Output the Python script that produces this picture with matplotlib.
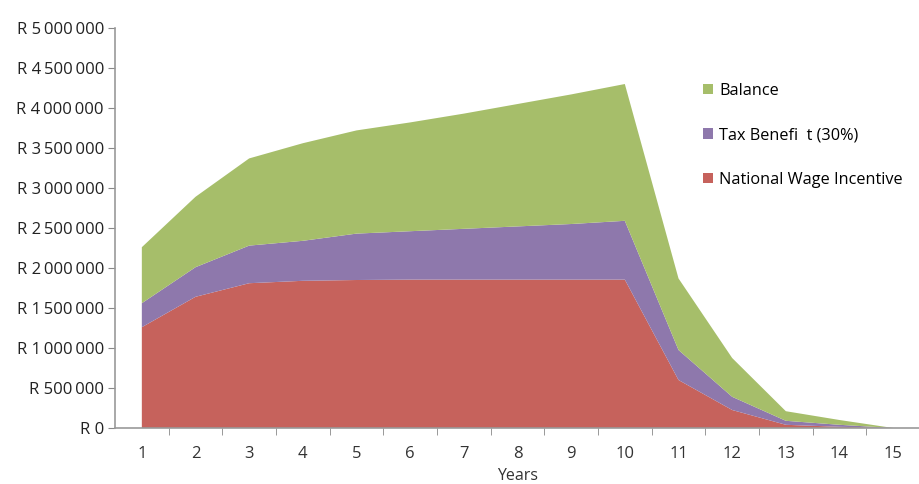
import matplotlib
matplotlib.use("Agg")
import matplotlib.pyplot as plt
import numpy as np

years = list(range(1, 16))
total = [2.26, 2.89, 3.37, 3.56, 3.72, 3.82, 3.93, 4.05, 4.17, 4.30, 1.87, 0.875, 0.21, 0.10, 0.0]
nwi_plus_tax = [1.56, 2.01, 2.28, 2.34, 2.43, 2.46, 2.49, 2.52, 2.55, 2.59, 0.975, 0.39, 0.09, 0.04, 0.0]
nwi = [1.26, 1.64, 1.81, 1.84, 1.85, 1.855, 1.855, 1.855, 1.855, 1.855, 0.60, 0.225, 0.04, 0.015, 0.0]

national_wage_incentive = np.array(nwi) * 1e6
tax_benefit = (np.array(nwi_plus_tax) - np.array(nwi)) * 1e6
balance = (np.array(total) - np.array(nwi_plus_tax)) * 1e6

series_names = ["National Wage Incentive", "Tax Benefi  t (30%)", "Balance"]
colors = ["#C6625C", "#8E78AC", "#A6BE6A"]
y_ticks = [0, 500000, 1000000, 1500000, 2000000, 2500000, 3000000, 3500000, 4000000, 4500000, 5000000]

def fmt(v):
    if v == 0:
        return "R 0"
    return "R " + f"{int(v):,}".replace(",", "\u2009")

fig = plt.figure(figsize=(9.2, 4.84), dpi=100)
ax = fig.add_axes([0.125, 0.1157, 0.875, 0.8264])

polys = ax.stackplot(years, national_wage_incentive, tax_benefit, balance,
                     colors=colors, labels=series_names, linewidth=0)

ax.set_xlim(0.5, 15.5)
ax.set_ylim(0, 5000000)
ax.set_yticks(y_ticks)
ax.set_yticklabels([fmt(v) for v in y_ticks], fontsize=12, color="#222222", family="Open Sans")
ax.set_xticks(years)
ax.set_xticklabels([str(y) for y in years], fontsize=12, color="#333333", family="Open Sans")
ax.set_xticks(np.arange(1.5, 15.5, 1), minor=True)
ax.tick_params(axis="x", which="major", length=0, pad=13)
ax.tick_params(axis="x", which="minor", length=5, color="#888888", direction="out")
ax.tick_params(axis="y", length=5, color="#888888", direction="out", pad=3)

for s in ["top", "right"]:
    ax.spines[s].set_visible(False)
for s in ["left", "bottom"]:
    ax.spines[s].set_color("#999999")
    ax.spines[s].set_linewidth(1.2)

ax.set_xlabel("Years", fontsize=11.5, color="#333333", family="Open Sans", labelpad=4)

handles = [polys[2], polys[1], polys[0]]
labels = [series_names[2], series_names[1], series_names[0]]
leg = ax.legend(handles, labels, loc="upper left", bbox_to_anchor=(0.712, 0.9),
                frameon=False, handlelength=0.6, handleheight=0.6,
                handletextpad=0.4, labelspacing=1.75,
                prop={"family": "Open Sans", "size": 11.7})

fig.savefig("out.png", dpi=100)
